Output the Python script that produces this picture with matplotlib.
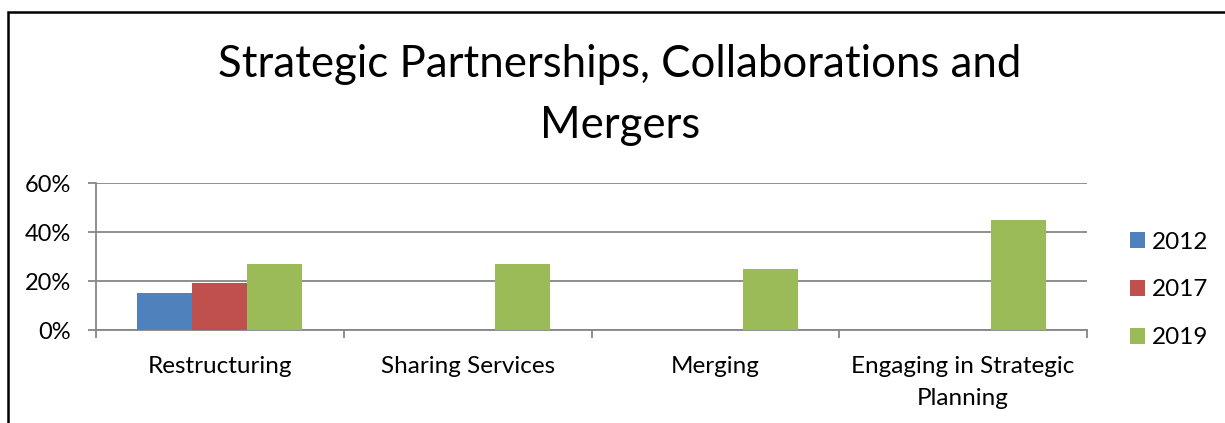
import numpy as np
import matplotlib.pyplot as plt
from matplotlib.patches import Rectangle

plt.rcParams['font.family'] = ['Lato', 'DejaVu Sans']

categories = ['Restructuring', 'Sharing Services', 'Merging', 'Engaging in Strategic\nPlanning']
years = ['2012', '2017', '2019']
v2012 = [15, 0, 0, 0]
v2017 = [19, 0, 0, 0]
v2019 = [27, 27, 25, 45]
colors = ['#4F81BD', '#C0504D', '#9BBB59']

fig = plt.figure(figsize=(12.25, 4.23), dpi=100)
ax = fig.add_axes([96 / 1225, 1 - 330 / 423, (1087 - 96) / 1225, (330 - 183) / 423])

# outer chart border (cut off on right and bottom like the screenshot)
fig.add_artist(Rectangle((8 / 1225, -0.1), 1.2, (423 - 12) / 423 + 0.1, transform=fig.transFigure,
                         fill=False, edgecolor='black', linewidth=1.8))

x = np.arange(len(categories))
w = 0.222
for i, (vals, yr) in enumerate(zip([v2012, v2017, v2019], years)):
    ax.bar(x + (i - 1) * w, vals, width=w, color=colors[i], label=yr, zorder=3)

ax.set_xlim(-0.5, len(categories) - 0.5)
ax.set_ylim(0, 60)
ax.set_yticks([0, 20, 40, 60])
ax.set_yticklabels(['0%', '20%', '40%', '60%'], fontsize=17)
ax.yaxis.grid(True, color='#868686', linewidth=1.3, zorder=0)
ax.tick_params(axis='y', length=6, width=1.3, color='#868686', pad=12)

ax.set_xticks(x)
ax.set_xticklabels(categories, fontsize=17.5, linespacing=1.65)
ax.tick_params(axis='x', length=0, pad=19)
ax.set_xticks(np.arange(-0.5, len(categories)), minor=True)
ax.tick_params(axis='x', which='minor', length=6, width=1.3, color='#868686')

for s in ['top', 'right']:
    ax.spines[s].set_visible(False)
for s in ['left', 'bottom']:
    ax.spines[s].set_color('#868686')
    ax.spines[s].set_linewidth(1.3)

fig.text(620 / 1225, 1 - 95 / 423, 'Strategic Partnerships, Collaborations and\nMergers',
         ha='center', va='center', fontsize=31.5, linespacing=1.6)

leg = ax.legend(loc='center left', bbox_to_anchor=(1130 / 1225, 1 - 290 / 423),
                bbox_transform=fig.transFigure, frameon=False, fontsize=17.5,
                borderpad=0, borderaxespad=0,
                handlelength=0.62, handleheight=0.62, handletextpad=0.3, labelspacing=1.1)

fig.savefig('out.png', dpi=100)
